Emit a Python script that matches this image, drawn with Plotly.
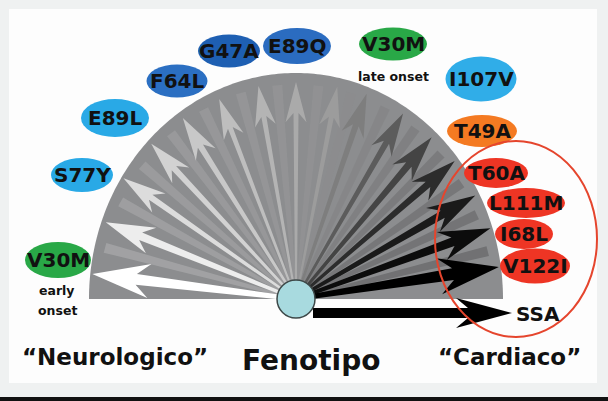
import numpy as np
import plotly.graph_objects as go

# ---------------- data ----------------
# arrows radiating from the "Fenotipo" hub (angle in degrees, 0 = right, 90 = up)
arrow_angles = [173, 158, 145, 133, 122, 111, 100, 90, 79, 71, 60, 50, 41, 30, 20, 9]
arrow_reach = [0.99, 0.98, 0.99, 0.98, 0.97, 0.96, 0.96, 0.96, 0.96, 0.97, 0.97, 0.97, 0.98, 0.98, 0.99, 0.99]
arrow_shades = ["#ffffff", "#ededed", "#dcdcdc", "#d2d2d2", "#c8c8c8", "#bebebe", "#b4b4b4",
                "#aaaaaa", "#9c9c9c", "#7e7e7e", "#5c5c5c", "#444444", "#2c2c2c", "#1a1a1a",
                "#0c0c0c", "#000000"]
arrow_widths = [11, 8, 6, 6, 6, 5, 5, 5, 5, 6, 6, 7, 7, 8, 9, 12]

# soft streaks in the fan between the arrows
ray_angles = [165, 151, 139, 127, 116, 105, 95, 84, 75, 65, 55, 45, 35, 25, 14]
ray_shades = ["#f4f4f4", "#e4e4e4", "#d8d8d8", "#cdcdcd", "#c3c3c3", "#b9b9b9", "#afafaf",
              "#a3a3a3", "#8c8c8c", "#6c6c6c", "#505050", "#383838", "#242424", "#141414", "#060606"]

ssa_label = "SSA"

# mutation labels
label_text = ["V30M", "S77Y", "E89L", "F64L", "G47A", "E89Q", "V30M", "I107V", "T49A",
              "T60A", "L111M", "I68L", "V122I"]
label_x = [58, 82, 115, 177, 229, 297, 393, 481, 482, 496, 526, 524, 535]
label_y = [260, 175, 118, 81, 51, 46, 44, 79, 131, 173, 203, 234, 266]
label_w = [66, 62, 68, 61, 62, 68, 68, 71, 70, 64, 78, 58, 70]
label_h = [36, 34, 38, 33, 33, 36, 33, 45, 32, 30, 30, 30, 35]
label_col = ["#29a847", "#29a9e6", "#29a9e6", "#2b6fc2", "#1e5fb2", "#2b6cc0", "#29a847",
             "#30ade8", "#f47a22", "#ee3524", "#ee3524", "#ee3524", "#ee3524"]

onset_late = "late onset"
onset_early = ["early", "onset"]
group_left = "“Neurologico”"
group_mid = "Fenotipo"
group_right = "“Cardiaco”"

# ---------------- geometry ----------------
cx, cy = 296, 299
rx, ry = 207, 226

fig = go.Figure()

# gray fan (upper half ellipse)
t = np.linspace(0, np.pi, 200)
fx = np.concatenate([cx + rx * np.cos(t), [cx - rx, cx + rx]])
fy = np.concatenate([cy - ry * np.sin(t), [cy, cy]])
fig.add_trace(go.Scatter(x=fx, y=fy, fill="toself", fillcolor="#8c8d8f", mode="none",
                         hoverinfo="skip", showlegend=False))


def edge_radius(a):
    return 1.0 / np.sqrt((np.cos(a) / rx) ** 2 + (np.sin(a) / ry) ** 2)


def arrow_poly(x0, y0, x1, y1, w0, w, L, H, s):
    d = np.array([x1 - x0, y1 - y0], dtype=float)
    d /= np.linalg.norm(d)
    n = np.array([-d[1], d[0]])
    p0 = np.array([x0, y0], dtype=float)
    tip = np.array([x1, y1], dtype=float)
    base = tip - L * d
    barb = tip - (L + s) * d
    pts = [p0 + n * w0 / 2, base + n * w / 2, barb + n * H, tip,
           barb - n * H, base - n * w / 2, p0 - n * w0 / 2, p0 + n * w0 / 2]
    pts = np.array(pts)
    return pts[:, 0], pts[:, 1]


# streaks
for ang, col in zip(ray_angles, ray_shades):
    a = np.radians(ang)
    r = edge_radius(a) * 0.95
    d = np.array([np.cos(a), -np.sin(a)])
    n = np.array([-d[1], d[0]])
    p0 = np.array([cx, cy])
    p1 = p0 + r * d
    pts = np.array([p0 + n * 1, p1 + n * 5, p1 - n * 5, p0 - n * 1, p0 + n * 1])
    fig.add_trace(go.Scatter(x=pts[:, 0], y=pts[:, 1], fill="toself", fillcolor=col, opacity=0.2,
                             mode="none", hoverinfo="skip", showlegend=False))

for ang, k, col, w in zip(arrow_angles, arrow_reach, arrow_shades, arrow_widths):
    a = np.radians(ang)
    r = edge_radius(a)
    x1 = cx + k * r * np.cos(a)
    y1 = cy - k * r * np.sin(a)
    L = 20 + 2.2 * w
    H = 5 + 1.1 * w
    xs, ys = arrow_poly(cx, cy, x1, y1, 0.35 * w, w, L, H, 0.3 * L)
    fig.add_trace(go.Scatter(x=xs, y=ys, fill="toself", fillcolor=col, mode="none",
                             hoverinfo="skip", showlegend=False))

# SSA arrow
xs, ys = arrow_poly(cx + 17, cy + 14, cx + 216, cy + 14, 10, 10, 44, 15, 12)
fig.add_trace(go.Scatter(x=xs, y=ys, fill="toself", fillcolor="#000000", mode="none",
                         hoverinfo="skip", showlegend=False))

shapes = []
shapes.append(dict(type="rect", x0=9, x1=597, y0=9, y1=383, fillcolor="#fdfdfd",
                   line=dict(width=0), layer="below"))
shapes.append(dict(type="rect", x0=0, x1=608, y0=397, y1=401, fillcolor="#111111",
                   line=dict(width=0), layer="below"))
for x, y, w, h, c in zip(label_x, label_y, label_w, label_h, label_col):
    shapes.append(dict(type="circle", x0=x - w / 2, x1=x + w / 2, y0=y - h / 2, y1=y + h / 2,
                       fillcolor=c, line=dict(width=0), layer="above"))
shapes.append(dict(type="circle", x0=cx - 19, x1=cx + 19, y0=cy - 19, y1=cy + 19,
                   fillcolor="#a8dadf", line=dict(color="#3d4848", width=1.5), layer="above"))
shapes.append(dict(type="circle", x0=435, x1=597, y0=141, y1=337, fillcolor="rgba(0,0,0,0)",
                   line=dict(color="#e5452d", width=2), layer="above"))

ann = []
FONT = "DejaVu Sans, Verdana, sans-serif"


def txt(x, y, s, size):
    return dict(x=x, y=y, text="<b>" + s + "</b>", showarrow=False,
                font=dict(family=FONT, size=size, color="#111111"),
                xanchor="center", yanchor="middle")


for x, y, tx in zip(label_x, label_y, label_text):
    ann.append(txt(x, y, tx, 20))
ann.append(txt(538, 314, ssa_label, 20))
ann.append(txt(393, 76, onset_late, 12.5))
ann.append(txt(57, 290, onset_early[0], 12.5))
ann.append(txt(57, 310, onset_early[1], 12.5))
ann.append(txt(115, 357, group_left, 23))
ann.append(txt(311, 360, group_mid, 28))
ann.append(txt(509, 357, group_right, 23))

fig.update_layout(
    width=608, height=401, margin=dict(l=0, r=0, t=0, b=0),
    paper_bgcolor="#eff1f1", plot_bgcolor="#eff1f1",
    xaxis=dict(range=[0, 608], visible=False, fixedrange=True),
    yaxis=dict(range=[401, 0], visible=False, fixedrange=True),
    shapes=shapes, annotations=ann, showlegend=False,
)
fig.write_html("out.html", config={"displayModeBar": False},
               post_script="document.body.style.margin='0px';")
